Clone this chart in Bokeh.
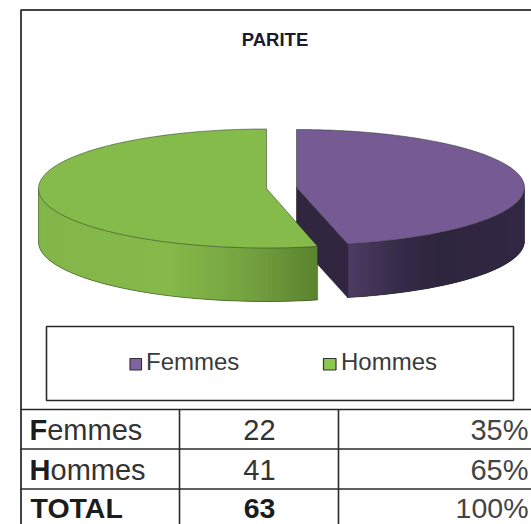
import numpy as np
from bokeh.plotting import figure
from bokeh.models import Range1d
from bokeh.core.properties import value
from bokeh.embed import file_html
from bokeh.resources import INLINE

# ---- data ----
title = "PARITE"
categories = ["Femmes", "Hommes"]
pie_shares = [46.4, 53.6]          # share of each slice as drawn in the pie
counts = [22, 41]
percents = ["35%", "65%"]
total_label = "TOTAL"
total_count = "63"
total_percent = "100%"

# ---- style / layout ----
PURPLE_TOP, GREEN_TOP = "#755a94", "#84bb4a"
PURPLE_SW, GREEN_SW = "#8064a2", "#8cc850"
PURPLE_CUT = "#30263f"
DARK = "#2a2a2a"
TXT = "#1c1c1c"
A = 228
CX_PURPLE, CY_PURPLE, B_PURPLE, D_PURPLE = 296, 187, 58, 53.5
CX_GREEN, CY_GREEN, B_GREEN, D_GREEN = 266, 188, 59.5, 53.5

p = figure(width=531, height=524, output_backend="svg", toolbar_location=None,
           x_range=Range1d(0, 531), y_range=Range1d(524, 0),
           x_axis_type=None, y_axis_type=None, min_border=0,
           outline_line_color=None, background_fill_color="white")
p.grid.visible = False


def rim(cx, cy, b, th):
    return cx + A * np.sin(th), cy - b * np.cos(th)


def mix(stops, t):
    xs = [s[0] for s in stops]
    ch = [np.interp(t, xs, [s[1][i] for s in stops]) for i in range(3)]
    return "#%02x%02x%02x" % tuple(int(round(c)) for c in ch)


def side(cx, cy, b, depth, t0, t1, stops):
    n = 90
    ths = np.linspace(t0, t1, n + 1)
    xs_all, ys_all, cols = [], [], []
    for i in range(n):
        a0, a1 = ths[i], ths[min(i + 3, n)]
        x0, y0 = rim(cx, cy, b, a0)
        x1, y1 = rim(cx, cy, b, a1)
        xs_all.append([x0, x1, x1, x0])
        ys_all.append([y0, y1, y1 + depth, y0 + depth])
        cols.append(mix(stops, rim(cx, cy, b, ths[i])[0]))
    p.patches(xs_all, ys_all, fill_color=cols, line_color=None)
    xr, yr = rim(cx, cy, b, ths)
    p.line(xr, yr + depth, line_color="#26301a", line_width=0.7, line_alpha=0.7)
    for a in (t0, t1):
        x, y = rim(cx, cy, b, a)
        p.line([x, x], [y, y + depth], line_color="#222222", line_width=0.6, line_alpha=0.6)


def top(cx, cy, b, t0, t1, color):
    ths = np.linspace(t0, t1, 200)
    xr, yr = rim(cx, cy, b, ths)
    xs = np.concatenate([[cx], xr, [cx]])
    ys = np.concatenate([[cy], yr, [cy]])
    p.patch(xs, ys, fill_color=color, line_color="#2c3322", line_width=0.7, line_alpha=0.75)


theta = np.radians(pie_shares[0] * 3.6)

# purple slice
px, py = rim(CX_PURPLE, CY_PURPLE, B_PURPLE, theta)
side(CX_PURPLE, CY_PURPLE, B_PURPLE, D_PURPLE, np.pi / 2, theta,
     [(347, (0x4e, 0x3c, 0x66)), (400, (0x36, 0x2b, 0x48)), (440, (0x2e, 0x25, 0x3e)), (524, (0x33, 0x28, 0x44))])
p.patch([CX_PURPLE, px, px, CX_PURPLE],
        [CY_PURPLE, py, py + D_PURPLE, CY_PURPLE + D_PURPLE],
        fill_color=PURPLE_CUT, line_color="#222222", line_width=0.6)
top(CX_PURPLE, CY_PURPLE, B_PURPLE, 0, theta, PURPLE_TOP)

# green slice
side(CX_GREEN, CY_GREEN, B_GREEN, D_GREEN, theta, 3 * np.pi / 2,
     [(39, (0x82, 0xb6, 0x4a)), (170, (0x85, 0xb9, 0x4a)), (250, (0x74, 0xa2, 0x40)), (316, (0x5c, 0x84, 0x30))])
top(CX_GREEN, CY_GREEN, B_GREEN, theta, 2 * np.pi, GREEN_TOP)

# frame, legend box and table rules
p.line([20.5, 20.5, 531], [524, 9.5, 9.5], line_color="#444444", line_width=2)
p.patch([46, 513, 513, 46], [326, 326, 400, 400], fill_color=None, line_color=DARK, line_width=1.6)
ROWS = [409, 448.5, 488.5]
for y in ROWS:
    p.line([20, 531], [y, y], line_color=DARK, line_width=1.6)
for x in (179, 338):
    p.line([x, x], [ROWS[0], 524], line_color=DARK, line_width=1.6)

# legend
p.quad(left=[129.5, 323], right=[141, 335.5], top=[358, 358], bottom=[369.5, 369.5],
       fill_color=[PURPLE_SW, GREEN_SW], line_color="#333333", line_width=1.2)
p.text(x=[145.5, 340.5], y=[361, 361], text=categories, text_font=value("Liberation Sans"),
       text_font_size="24px", text_color="#3a3a3a", text_baseline="middle", text_align="left")

# title
p.text(x=[274.5], y=[38.5], text=[title], text_font=value("Liberation Sans"), text_font_size="18.5px",
       text_font_style="bold", text_color="#1a1a2e", text_align="center", text_baseline="middle")

# table
ROW_Y = [429, 469]
TOTAL_Y = 507.5
FS = "29px"
FS_TOTAL = "28.5px"
initials = [c[0] for c in categories]
rests = [c[1:] for c in categories]
p.text(x=[29, 29], y=ROW_Y, text=initials, text_font=value("Liberation Sans"), text_font_size=FS,
       text_font_style="bold", text_color=TXT, text_baseline="middle")
p.text(x=[46.7, 50], y=ROW_Y, text=rests, text_font=value("Liberation Sans"), text_font_size=FS,
       text_color="#333333", text_baseline="middle")
p.text(x=[30], y=[TOTAL_Y], text=[total_label], text_font=value("Liberation Sans"), text_font_size=FS_TOTAL,
       text_font_style="bold", text_color=TXT, text_baseline="middle")
p.text(x=[259, 259], y=ROW_Y, text=[str(c) for c in counts], text_font=value("Liberation Sans"),
       text_font_size=FS, text_color="#333333", text_align="center", text_baseline="middle")
p.text(x=[259], y=[TOTAL_Y], text=[total_count], text_font=value("Liberation Sans"), text_font_size=FS_TOTAL,
       text_font_style="bold", text_color=TXT, text_align="center", text_baseline="middle")
p.text(x=[528, 528], y=ROW_Y, text=percents, text_font=value("Liberation Sans"),
       text_font_size=FS, text_color="#444444", text_align="right", text_baseline="middle")
p.text(x=[528], y=[TOTAL_Y], text=[total_percent], text_font=value("Liberation Sans"),
       text_font_size=FS_TOTAL, text_color="#444444", text_align="right", text_baseline="middle")

open("out.html", "w").write(file_html(p, INLINE))
